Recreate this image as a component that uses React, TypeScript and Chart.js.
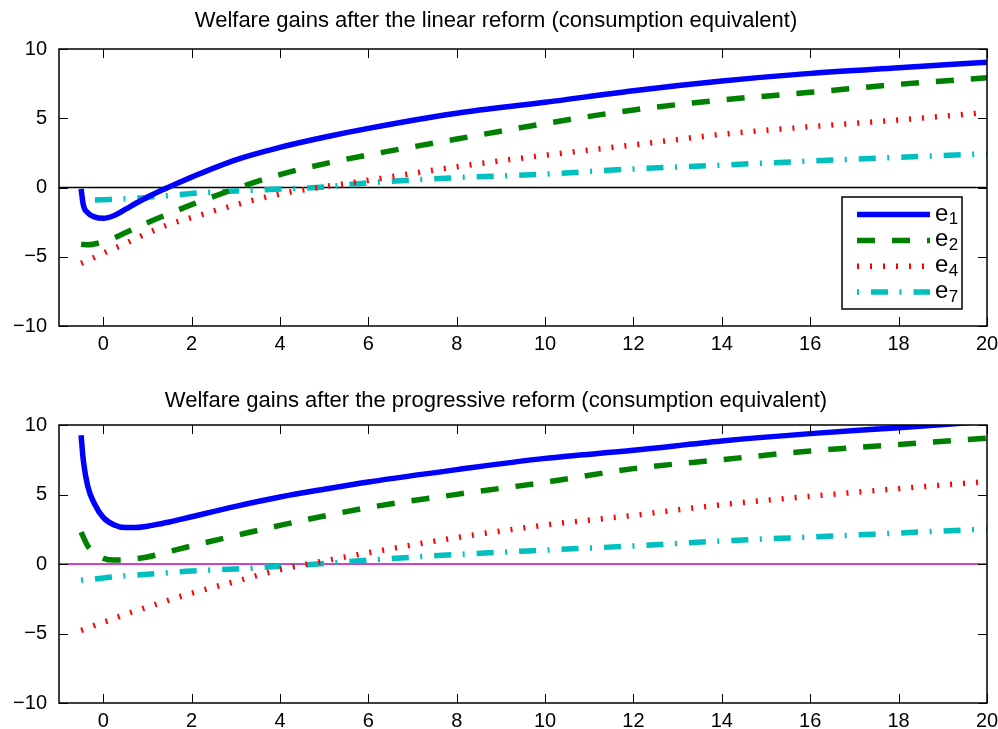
import React, { useEffect, useRef } from "react";
import { Chart, registerables } from "chart.js";

Chart.register(...registerables);

// ---------- data ----------
const xGrid = [-0.5, -0.45, -0.35, -0.2, 0, 0.25, 0.5, 0.75, 1, 1.25, 1.5, 2, 3, 4, 5, 6, 8, 10, 12, 14, 16, 18, 20];

// linear reform
const linearE1 = [-0.1, -1.26, -1.82, -2.12, -2.22, -2.02, -1.58, -1.12, -0.7, -0.3, 0.05, 0.75, 2.0, 2.9, 3.63, 4.27, 5.36, 6.15, 6.99, 7.69, 8.24, 8.65, 9.04];
const linearE2 = [-4.1, -4.12, -4.14, -4.08, -3.92, -3.63, -3.27, -2.9, -2.54, -2.2, -1.88, -1.24, -0.08, 0.93, 1.71, 2.35, 3.5, 4.62, 5.6, 6.32, 6.87, 7.45, 7.92];
const linearE4 = [-5.47, -5.4, -5.25, -5.05, -4.75, -4.4, -4.05, -3.67, -3.3, -2.96, -2.65, -2.17, -1.25, -0.47, 0.06, 0.52, 1.5, 2.33, 3.07, 3.84, 4.39, 4.87, 5.42];
const linearE7 = [-0.78, -0.82, -0.86, -0.9, -0.88, -0.85, -0.82, -0.77, -0.72, -0.65, -0.58, -0.43, -0.25, -0.11, 0.04, 0.34, 0.71, 0.97, 1.34, 1.62, 1.91, 2.18, 2.44];

// progressive reform
const progE1 = [9.26, 7.46, 5.6, 4.35, 3.35, 2.8, 2.62, 2.63, 2.72, 2.87, 3.02, 3.4, 4.15, 4.82, 5.38, 5.9, 6.79, 7.6, 8.18, 8.85, 9.38, 9.81, 10.27];
const progE2 = [2.3, 1.95, 1.3, 0.85, 0.42, 0.28, 0.3, 0.38, 0.5, 0.7, 0.9, 1.3, 2.05, 2.78, 3.45, 4.06, 5.01, 5.88, 6.86, 7.51, 8.13, 8.59, 9.05];
const progE4 = [-4.77, -4.72, -4.6, -4.42, -4.2, -3.92, -3.62, -3.36, -3.1, -2.84, -2.58, -2.1, -1.25, -0.41, 0.22, 0.81, 1.9, 2.8, 3.5, 4.27, 4.87, 5.42, 5.93];
const progE7 = [-1.17, -1.15, -1.12, -1.08, -1.0, -0.92, -0.85, -0.8, -0.74, -0.68, -0.62, -0.5, -0.36, -0.17, 0.03, 0.28, 0.68, 1.0, 1.3, 1.66, 1.94, 2.23, 2.52];

const xTicks = [0, 2, 4, 6, 8, 10, 12, 14, 16, 18, 20];
const yTicks = [-10, -5, 0, 5, 10];
const xRange = [-1, 20];
const yRange = [-10, 10];
const zeroLineX = [-1, 20];
const zeroLineY = [0, 0];

const seriesNames = ["e", "e", "e", "e"];
const seriesSubs = ["1", "2", "4", "7"];

const titleTop = "Welfare gains after the linear reform (consumption equivalent)";
const titleBottom = "Welfare gains after the progressive reform (consumption equivalent)";

// ---------- styles ----------
const FONT = "'Liberation Sans', Arial, Helvetica, sans-serif";
const seriesStyles = [
  { color: "#0000ff", width: 5.5, dash: [] as number[] },
  { color: "#008000", width: 5.5, dash: [18, 17] },
  { color: "#ff0000", width: 5.5, dash: [2, 11] },
  { color: "#00bfbf", width: 5.5, dash: [2, 12, 17, 11.5] },
];

const toPoints = (xs: number[], ys: number[]) => xs.map((x, i) => ({ x, y: ys[i] }));

const framePlugin = {
  id: "frameTicks",
  afterDatasetsDraw(chart: any) {
    const { ctx, chartArea: a, scales } = chart;
    const L = 9;
    ctx.save();
    ctx.strokeStyle = "#000";
    ctx.lineWidth = 1;
    ctx.setLineDash([]);
    ctx.beginPath();
    for (const t of scales.x.ticks) {
      const px = Math.round(scales.x.getPixelForValue(t.value)) + 0.5;
      ctx.moveTo(px, a.bottom);
      ctx.lineTo(px, a.bottom - L);
      ctx.moveTo(px, a.top);
      ctx.lineTo(px, a.top + L);
    }
    for (const t of scales.y.ticks) {
      const py = Math.round(scales.y.getPixelForValue(t.value)) + 0.5;
      ctx.moveTo(a.left, py);
      ctx.lineTo(a.left + L, py);
      ctx.moveTo(a.right, py);
      ctx.lineTo(a.right - L, py);
    }
    ctx.stroke();
    ctx.lineWidth = 1.5;
    ctx.strokeRect(a.left, a.top, a.right - a.left, a.bottom - a.top);
    ctx.restore();
  },
};

const legendPlugin = {
  id: "insideLegend",
  afterDraw(chart: any) {
    const { ctx, chartArea: a } = chart;
    const boxW = 120;
    const boxH = 112;
    const left = a.right - 25 - boxW;
    const top = a.top + 148;
    ctx.save();
    ctx.fillStyle = "#fff";
    ctx.fillRect(left, top, boxW, boxH);
    ctx.strokeStyle = "#000";
    ctx.lineWidth = 1.5;
    ctx.setLineDash([]);
    ctx.strokeRect(left, top, boxW, boxH);
    const rowH = 25.8;
    for (let i = 0; i < seriesStyles.length; i++) {
      const s = seriesStyles[i];
      const cy = top + 17.6 + i * rowH;
      ctx.beginPath();
      ctx.strokeStyle = s.color;
      ctx.lineWidth = s.width;
      ctx.lineCap = "butt";
      ctx.setLineDash(s.dash);
      ctx.moveTo(left + 15, cy);
      ctx.lineTo(left + 88, cy);
      ctx.stroke();
      ctx.setLineDash([]);
      ctx.fillStyle = "#000";
      ctx.textBaseline = "alphabetic";
      ctx.textAlign = "left";
      ctx.font = `24px ${FONT}`;
      ctx.fillText(seriesNames[i], left + 93, cy + 6);
      const w = ctx.measureText(seriesNames[i]).width;
      ctx.font = `17px ${FONT}`;
      ctx.fillText(seriesSubs[i], left + 93 + w + 0.5, cy + 9.5);
    }
    ctx.restore();
  },
};

// canvas is shifted right by CANVAS_LEFT px on the page
const CANVAS_LEFT = 5;
const CANVAS_W = 993;

function makeConfig(
  title: string,
  series: number[][],
  zeroColor: string,
  titlePad: { top: number; bottom: number },
  xAxisHeight: number,
  withLegend: boolean
): any {
  const datasets: any[] = series.map((ys, i) => ({
    label: seriesNames[i] + seriesSubs[i],
    data: toPoints(xGrid, ys),
    borderColor: seriesStyles[i].color,
    borderWidth: seriesStyles[i].width,
    borderDash: seriesStyles[i].dash,
    borderCapStyle: "butt",
    pointRadius: 0,
    fill: false,
    cubicInterpolationMode: "monotone",
    clip: 0,
  }));
  datasets.push({
    label: "zero",
    data: toPoints(zeroLineX, zeroLineY),
    borderColor: zeroColor,
    borderWidth: 1.5,
    pointRadius: 0,
    fill: false,
    clip: 0,
  });
  return {
    type: "line",
    data: { datasets },
    options: {
      animation: false,
      responsive: false,
      maintainAspectRatio: false,
      layout: { padding: { left: 0, right: CANVAS_LEFT + CANVAS_W - 987, top: 0, bottom: 0 } },
      plugins: {
        legend: { display: false },
        tooltip: { enabled: false },
        title: {
          display: true,
          text: title,
          color: "#000",
          font: { family: FONT, size: 22, weight: "normal" },
          padding: titlePad,
        },
      },
      scales: {
        x: {
          type: "linear",
          min: xRange[0],
          max: xRange[1],
          grid: { display: false, drawTicks: false },
          border: { display: false },
          afterBuildTicks: (s: any) => {
            s.ticks = xTicks.map((v) => ({ value: v }));
          },
          afterFit: (s: any) => {
            s.height = xAxisHeight;
            s.paddingLeft = 0;
            s.paddingRight = 0;
          },
          ticks: {
            color: "#000",
            font: { family: FONT, size: 20 },
            padding: 6,
            maxRotation: 0,
            autoSkip: false,
            callback: (v: any) => String(v).replace("-", "\u2212"),
          },
        },
        y: {
          type: "linear",
          min: yRange[0],
          max: yRange[1],
          grid: { display: false, drawTicks: false },
          border: { display: false },
          afterBuildTicks: (s: any) => {
            s.ticks = yTicks.map((v) => ({ value: v }));
          },
          afterFit: (s: any) => {
            s.width = 59 - CANVAS_LEFT;
            s.paddingTop = 0;
            s.paddingBottom = 0;
          },
          ticks: {
            color: "#000",
            font: { family: FONT, size: 20 },
            padding: 12,
            autoSkip: false,
            callback: (v: any) => String(v).replace("-", "\u2212"),
          },
        },
      },
    },
    plugins: withLegend ? [framePlugin, legendPlugin] : [framePlugin],
  };
}

export default function App() {
  const topRef = useRef<HTMLCanvasElement | null>(null);
  const bottomRef = useRef<HTMLCanvasElement | null>(null);

  useEffect(() => {
    const c1 = new Chart(
      topRef.current as HTMLCanvasElement,
      makeConfig(titleTop, [linearE1, linearE2, linearE4, linearE7], "#000000", { top: 7.5, bottom: 15.1 }, 39, true)
    );
    const c2 = new Chart(
      bottomRef.current as HTMLCanvasElement,
      makeConfig(titleBottom, [progE1, progE2, progE4, progE7], "#bf00bf", { top: 22.5, bottom: 11.1 }, 26, false)
    );
    return () => {
      c1.destroy();
      c2.destroy();
    };
  }, []);

  return (
    <div style={{ position: "absolute", left: 0, top: 0, width: 998, height: 729, background: "#fff", overflow: "hidden" }}>
      <canvas
        ref={topRef}
        width={CANVAS_W}
        height={365}
        style={{ position: "absolute", left: CANVAS_LEFT, top: 0, width: CANVAS_W, height: 365 }}
      />
      <canvas
        ref={bottomRef}
        width={CANVAS_W}
        height={364}
        style={{ position: "absolute", left: CANVAS_LEFT, top: 365, width: CANVAS_W, height: 364 }}
      />
    </div>
  );
}
